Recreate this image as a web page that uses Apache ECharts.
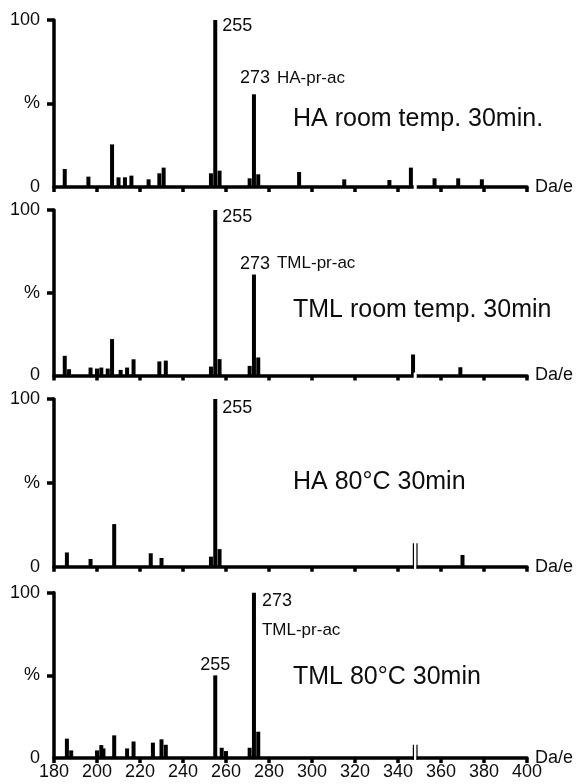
<!DOCTYPE html>
<html>
<head>
<meta charset="utf-8">
<script src="https://cdn.jsdelivr.net/npm/echarts@6/dist/echarts.min.js"></script>
<style>
  html, body { margin: 0; padding: 0; background: #fff; }
  #chart { width: 578px; height: 784px; }
</style>
</head>
<body>
<div id="chart"></div>
<script>
// Mass axis range (Da/e) and relative intensity tick labels
const massMin = 180;
const massMax = 400;
const massStep = 20;
const intensityTicks = [0, 50, 100];
const intensityTickLabels = ['0', '%', '100'];

// HA, room temperature, 30 min
const haRtMass = [185, 196, 207, 210, 213, 216, 224, 229, 231, 253, 255, 257, 271, 273, 275, 294, 315, 336, 346, 357, 368, 379];
const haRtInt  = [10.8, 6.2, 25.5, 5.8, 5.8, 6.8, 4.6, 8.2, 11.6, 8.2, 100, 9.8, 5.2, 55.5, 7.6, 9.0, 4.6, 4.2, 11.6, 5.2, 5.2, 4.6];

// TML, room temperature, 30 min
const tmlRtMass = [185, 187, 197, 200, 202, 205, 207, 211, 214, 217, 229, 232, 253, 255, 257, 271, 273, 275, 347, 369];
const tmlRtInt  = [11.9, 3.8, 4.8, 4.2, 4.8, 4.2, 22, 3.4, 4.8, 9.8, 8.5, 9.0, 5.4, 100, 9.9, 5.8, 61, 10.9, 12.7, 5.0];

// HA, 80 °C, 30 min
const ha80Mass = [186, 197, 208, 225, 230, 253, 255, 257, 370];
const ha80Int  = [8.5, 4.6, 25.4, 8.0, 5.2, 6.0, 100, 10.5, 7.0];

// TML, 80 °C, 30 min
const tml80Mass = [186, 188, 200, 202, 203, 208, 214, 217, 226, 230, 232, 255, 258, 260, 271, 273, 275];
const tml80Int  = [11.7, 4.6, 4.6, 7.8, 5.8, 13.7, 5.8, 10.0, 9.3, 11.3, 8.0, 50, 6.2, 4.2, 6.2, 100, 15.9];

// Axis break on the mass scale, with the height of its marks in each spectrum
const breakMass = 348;
const breakHeights = [0, 0, 14, 8];

const FONT = '"Liberation Sans", Arial, Helvetica, sans-serif';
const INK = '#0d0d0d';

// Peak labels show the peak's mass
const massOf = (p) => String(p.value[0]);

const rightOfTop = (dy) => ({
  position: [9, dy], align: 'left', verticalAlign: 'top', formatter: massOf,
  fontSize: 18, lineHeight: 18, color: INK, fontFamily: FONT
});
const numberThenName = (name, dy) => ({
  position: [-12, dy], align: 'left', verticalAlign: 'top',
  color: INK, fontFamily: FONT,
  formatter: (p) => '{n|' + massOf(p) + '}{s|' + name + '}',
  rich: {
    n: { fontSize: 18, lineHeight: 20, fontFamily: FONT, color: INK },
    s: { fontSize: 17, lineHeight: 20, fontFamily: FONT, color: INK, padding: [0, 0, 0, 7] }
  }
});
const numberOverName = (name, dy) => ({
  position: [10, dy], align: 'left', verticalAlign: 'top',
  color: INK, fontFamily: FONT,
  formatter: (p) => '{n|' + massOf(p) + '}\n{s|' + name + '}',
  rich: {
    n: { fontSize: 18, lineHeight: 30, fontFamily: FONT, color: INK },
    s: { fontSize: 17, lineHeight: 30, fontFamily: FONT, color: INK }
  }
});
const aboveTop = () => ({
  position: 'top', distance: 1, formatter: massOf,
  fontSize: 18, color: INK, fontFamily: FONT
});

const panels = [
  { title: 'HA room temp. 30min.', mass: haRtMass, inten: haRtInt, top: 20, height: 167, titleTop: 107,
    labels: { 255: rightOfTop(-3), 273: numberThenName('HA-pr-ac', -26) } },
  { title: 'TML room temp. 30min', mass: tmlRtMass, inten: tmlRtInt, top: 210, height: 165.5, titleTop: 298,
    labels: { 255: rightOfTop(-2), 273: numberThenName('TML-pr-ac', -21) } },
  { title: 'HA 80°C 30min', mass: ha80Mass, inten: ha80Int, top: 399, height: 167.7, titleTop: 470,
    labels: { 255: rightOfTop(0) } },
  { title: 'TML 80°C 30min', mass: tml80Mass, inten: tml80Int, top: 592.7, height: 165.3, titleTop: 665,
    labels: { 255: aboveTop(), 273: numberOverName('TML-pr-ac', -7) } }
];

const grid = [], xAxis = [], yAxis = [], series = [], title = [];

panels.forEach((p, i) => {
  grid.push({ left: 54, right: 51, top: p.top, height: p.height, containLabel: false, outerBoundsMode: 'none' });

  title.push({
    text: p.title, left: 293, top: p.titleTop, padding: 0,
    textStyle: { fontSize: 25, lineHeight: 25, fontWeight: 'normal', fontFamily: FONT, color: INK }
  });

  xAxis.push({
    type: 'value', gridIndex: i, min: massMin, max: massMax, interval: massStep,
    name: 'Da/e', nameLocation: 'end', nameGap: 8, nameMoveOverlap: false,
    nameTextStyle: { fontSize: 18, color: INK, fontFamily: FONT, align: 'left', verticalAlign: 'middle' },
    axisLine: { lineStyle: { color: '#000', width: 3.5 } },
    axisTick: { show: true, length: 5, lineStyle: { color: '#000', width: 3.5 } },
    axisLabel: { show: i === panels.length - 1, fontSize: 18, margin: 5, color: INK, fontFamily: FONT },
    splitLine: { show: false }
  });

  yAxis.push({
    type: 'value', gridIndex: i, min: intensityTicks[0], max: intensityTicks[2], interval: 50,
    axisLine: { show: true, lineStyle: { color: '#000', width: 3.5 } },
    axisTick: { show: true, length: 7, lineStyle: { color: '#000', width: 3.5 }, customValues: [50, 100] },
    axisLabel: {
      fontSize: 18, margin: 14, color: INK, fontFamily: FONT,
      formatter: (v) => intensityTickLabels[intensityTicks.indexOf(v)] || ''
    },
    splitLine: { show: false }
  });

  const data = p.mass.map((m, k) => {
    const item = { value: [m, p.inten[k]] };
    if (p.labels[m]) item.label = Object.assign({ show: true }, p.labels[m]);
    return item;
  });

  series.push({
    type: 'bar', xAxisIndex: i, yAxisIndex: i, barWidth: 4, z: 3,
    itemStyle: { color: '#000' },
    label: { show: false },
    data: data
  });

  // Axis break: a gap in the mass axis, with two thin upright marks
  series.push({
    type: 'custom', xAxisIndex: i, yAxisIndex: i, z: 4, silent: true,
    data: [[breakMass, breakHeights[i]]],
    renderItem: (params, api) => {
      const base = api.coord([api.value(0), 0]);
      const top = api.coord([api.value(0), api.value(1)]);
      const children = [{
        type: 'rect',
        shape: { x: base[0] - 1.5, y: base[1] - 3, width: 3, height: 6 },
        style: { fill: '#fff' }
      }];
      if (api.value(1) > 0) {
        [-1.8, 1.8].forEach((dx) => {
          children.push({
            type: 'line',
            shape: { x1: base[0] + dx, y1: base[1] + 2, x2: base[0] + dx, y2: top[1] },
            style: { stroke: '#000', lineWidth: 1.2 }
          });
        });
      }
      return { type: 'group', children: children };
    }
  });
});

const chart = echarts.init(document.getElementById('chart'), null, { renderer: 'canvas' });
chart.setOption({
  animation: false,
  backgroundColor: '#fff',
  textStyle: { fontFamily: FONT },
  title, grid, xAxis, yAxis, series
});
</script>
</body>
</html>
